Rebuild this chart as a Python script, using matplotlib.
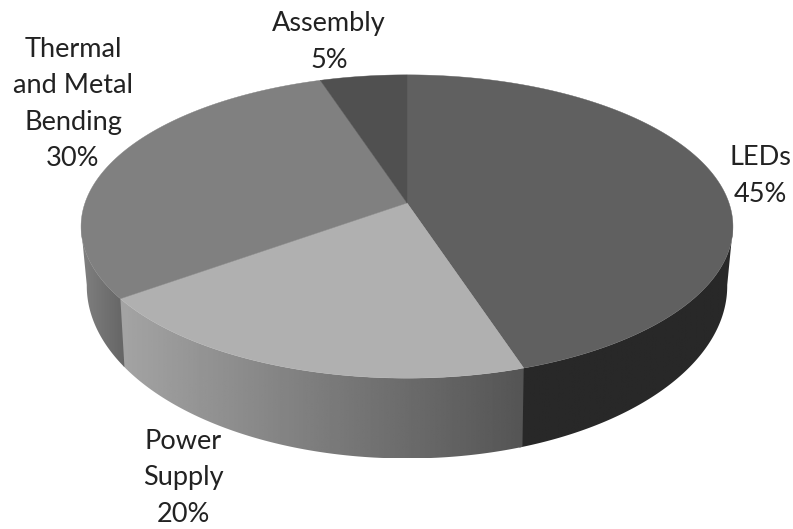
import numpy as np
import matplotlib
matplotlib.use('Agg')
import matplotlib.pyplot as plt
from matplotlib.patches import Polygon

labels = ['LEDs', 'Power\nSupply', 'Thermal\nand Metal\nBending', 'Assembly']
shares = [45, 20, 30, 5]
top_colors = ['#606060', '#b0b0b0', '#808080', '#505050']

# label centres, in pixels
label_pos = [(760, 176), (183, 478), (73, 104), (329, 42)]

# wall brightness against x: (x at left end, grey, x at right end, grey)
wall_shade = [(530, 0.16, 735, 0.16),
              (123, 0.64, 525, 0.33),
              (82, 0.50, 123, 0.40),
              (300, 0.3, 400, 0.3)]

W, H = 793, 529
CX = 407


def rim(theta, a, b, c, d):
    # perspective view of the disc edge, theta clockwise from 12 o'clock
    t = np.radians(theta)
    w = 1 + c * np.cos(t)
    return CX + a * np.sin(t) / w, d - b * np.cos(t) / w


def top_rim(theta):
    return rim(theta, 322, 148, 0.155, 203)


def bottom_rim(theta):
    return rim(theta, 316, 168, 0.162, 258)


fig = plt.figure(figsize=(W / 100, H / 100), dpi=100)
ax = fig.add_axes([0, 0, 1, 1])
ax.axis('off')

ends = np.cumsum(shares) / np.sum(shares) * 360
starts = np.r_[0, ends[:-1]]

# side walls first, only the part facing the viewer
for start, end, shade in zip(starts, ends, wall_shade):
    lo, hi = max(start, 99), min(end, 261)
    if hi <= lo:
        continue
    # run a little under the next wall so no gap shows at the joint
    th = np.linspace(lo, min(hi + 0.5, 261), 200)
    tx, ty = top_rim(th)
    bx, by = bottom_rim(th)
    outline = np.c_[np.r_[tx, bx[::-1]], np.r_[ty, by[::-1]]]
    x0, g0, x1, g1 = shade
    xs = np.linspace(outline[:, 0].min(), outline[:, 0].max(), 256)
    ramp = np.interp(xs, [x0, x1], [g0, g1])[None, :]
    im = ax.imshow(ramp, cmap='gray', vmin=0, vmax=1, aspect='auto', zorder=2,
                   extent=(xs[0], xs[-1], outline[:, 1].max(), outline[:, 1].min()))
    wall = Polygon(outline, closed=True, transform=ax.transData, facecolor='none', edgecolor='none')
    ax.add_patch(wall)
    im.set_clip_path(wall)

# top face
for start, end, col in zip(starts, ends, top_colors):
    th = np.linspace(start, end, 200)
    x, y = top_rim(th)
    ax.fill(np.r_[CX, x], np.r_[203, y], facecolor=col, edgecolor=col, lw=0.3, zorder=3)

for name, share, pos in zip(labels, shares, label_pos):
    ax.text(pos[0], pos[1], '{}\n{}%'.format(name, share), ha='center', va='center',
            family='Lato', fontsize=19.5, color='#222222', linespacing=1.56, zorder=4)

ax.set_xlim(0, W)
ax.set_ylim(H, 0)

fig.savefig('out.png', dpi=100, facecolor='white')
